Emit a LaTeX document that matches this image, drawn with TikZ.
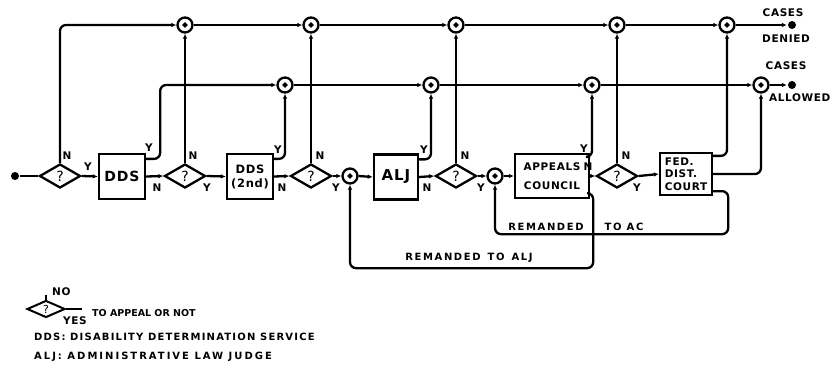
\documentclass[tikz,border=0pt]{standalone}
\usepackage{fontspec}
\setmainfont{DejaVu Sans}
\newfontfamily\fn{DejaVu Sans}[LetterSpace=6]
\newfontfamily\fm{DejaVu Sans}[LetterSpace=12]
\newfontfamily\fj{DejaVu Sans}[LetterSpace=20]
\newfontfamily\fw{DejaVu Sans}[LetterSpace=16]
\usetikzlibrary{shapes.geometric,arrows.meta}
\begin{document}
\begin{tikzpicture}[x=1pt,y=-1pt,line width=2.3pt,
  ar/.style={-{Latex[length=5pt,width=4.5pt]}},
  rc/.style={rounded corners=6pt},
  box/.style={draw,rectangle,inner sep=0pt,align=center,font=\fn\bfseries\fontsize{12}{14}\selectfont},
  dec/.style={draw,diamond,inner sep=0pt,minimum width=41pt,minimum height=24pt,font=\fontsize{14}{14}\selectfont},
  sumj/.style={draw,circle,minimum size=15pt,inner sep=0pt,
    path picture={\fill (path picture bounding box.center) +(-2.8pt,0) -- +(0,2.8pt) -- +(2.8pt,0) -- +(0,-2.8pt) -- cycle;}},
  lab/.style={font=\fn\bfseries\fontsize{10.5}{11}\selectfont,inner sep=0pt},
  wlab/.style={font=\fw\bfseries\fontsize{10}{10}\selectfont,inner sep=0pt},
  dotn/.style={circle,fill,inner sep=0pt,minimum size=8pt}
]
\useasboundingbox (0,0) rectangle (830,380);

% nodes main row
\node[dotn] (start) at (15,176) {};
\node[dec] (d1) at (60,176) {?};
\node[box,minimum width=46pt,minimum height=45pt,font=\fn\bfseries\fontsize{14}{14}\selectfont] (dds) at (122,176.5) {DDS};
\node[dec] (d2) at (185,176) {?};
\node[box,minimum width=46pt,minimum height=45pt,font=\fn\bfseries\fontsize{11.5}{14}\selectfont] (dds2) at (250,176.5) {DDS\\(2nd)};
\node[dec] (d3) at (311,176) {?};
\node[sumj] (s1) at (350,176) {};
\node[box,minimum width=44pt,minimum height=45pt,font=\fn\bfseries\fontsize{15}{15}\selectfont] (alj) at (396,177) {ALJ};
\node[dec] (d4) at (456,176) {?};
\node[sumj] (s2) at (495,176) {};
\node[box,minimum width=74pt,minimum height=44pt,font=\fn\bfseries\fontsize{10.5}{19}\selectfont] (ac) at (552,176) {APPEALS\\COUNCIL};
\node[dec] (d5) at (617,176) {?};
\node[box,minimum width=52pt,minimum height=42pt,align=left,font=\fn\bfseries\fontsize{10.5}{12.5}\selectfont] (fed) at (686,174) {FED.\\DIST.\\COURT};

% top row
\node[sumj] (t1) at (185,25) {};
\node[sumj] (t2) at (311,25) {};
\node[sumj] (t3) at (456,25) {};
\node[sumj] (t4) at (617,25) {};
\node[sumj] (t5) at (727,25) {};
\node[dotn] (endD) at (792,25) {};
% second row
\node[sumj] (a1) at (285,85) {};
\node[sumj] (a2) at (431,85) {};
\node[sumj] (a3) at (592,85) {};
\node[sumj] (a4) at (761,85) {};
\node[dotn] (endA) at (792,85) {};

% main row connectors
\draw (start) -- (d1.west);
\draw[ar] (d1.east) -- (dds.west);
\draw[ar] (dds.east) -- (d2.west);
\draw[ar] (d2.east) -- (dds2.west);
\draw[ar] (dds2.east) -- (d3.west);
\draw[ar] (d3.east) -- (s1.west);
\draw[ar] (s1.east) -- (alj.west);
\draw[ar] (alj.east) -- (d4.west);
\draw[ar] (d4.east) -- (s2.west);
\draw[ar] (s2.east) -- (ac.west);
\draw[ar] (ac.east) -- (d5.west);
\draw[ar] (d5.east) -- (fed.west);

% N branches up
\draw[ar,rc] (d1.north) |- (t1.west);
\draw[ar] (d2.north) -- (t1.south);
\draw[ar] (d3.north) -- (t2.south);
\draw[ar] (d4.north) -- (t3.south);
\draw[ar] (d5.north) -- (t4.south);
\draw[ar,rc] ([yshift=-4pt]fed.north east) -| (t5.south);

% Y branches up
\draw[ar,rc] ([yshift=-6pt]dds.north east) -- ++(14,0) |- (a1.west);
\draw[ar,rc] ([yshift=-6pt]dds2.north east) -| (a1.south);
\draw[ar,rc] ([yshift=-6pt]alj.north east) -| (a2.south);
\draw[ar,rc] ([yshift=-4pt]ac.north east) -| (a3.south);
\draw[ar,rc] (fed.east) -| (a4.south);

% top and second lines
\draw[ar] (t1.east) -- (t2.west);
\draw[ar] (t2.east) -- (t3.west);
\draw[ar] (t3.east) -- (t4.west);
\draw[ar] (t4.east) -- (t5.west);
\draw[ar] (t5.east) -- (endD);
\draw[ar] (a1.east) -- (a2.west);
\draw[ar] (a2.east) -- (a3.west);
\draw[ar] (a3.east) -- (a4.west);
\draw[ar] (a4.east) -- (endA);

% remand loops
\draw[ar,rc] ([yshift=5pt]fed.south east) -- ++(15,0) -- ++(0,43) -| (s2.south);
\draw[ar,rc] ([yshift=6pt]ac.south east) -- ++(3,0) -- ++(0,75) -| (s1.south);

% labels
\node[lab] at (67,156) {N};
\node[lab] at (88,167) {Y};
\node[lab] at (149,148) {Y};
\node[lab] at (157,188) {N};
\node[lab] at (193,156) {N};
\node[lab] at (207,188) {Y};
\node[lab] at (278,150) {Y};
\node[lab] at (282,188) {N};
\node[lab] at (320,156) {N};
\node[lab] at (336,188) {Y};
\node[lab] at (424,150) {Y};
\node[lab] at (427,188) {N};
\node[lab] at (465,156) {N};
\node[lab] at (481,188) {Y};
\node[lab] at (584,149) {Y};
\node[lab] at (588,167) {N};
\node[lab] at (626,156) {N};
\node[lab] at (637,188) {Y};

\node[lab] at (783,13) {CASES};
\node[lab] at (786,39) {DENIED};
\node[lab] at (786,66) {CASES};
\node[lab,anchor=west] at (768,98) {ALLOWED};

\node[wlab] at (546,227) {REMANDED};
\node[wlab] at (624,227) {TO AC};
\node[wlab] at (469,258) {REMANDED\hspace{7pt}TO\hspace{7pt}ALJ};

% legend
\node[dec,minimum width=38pt,minimum height=17pt,line width=2pt,font=\fontsize{11}{11}\selectfont] (ld) at (46,309) {?};
\coordinate (lno) at (46,295);
\coordinate (lyes) at (82,309);
\draw[line width=2pt] (ld.north) -- (lno);
\draw[line width=2pt] (ld.east) -- (lyes);
\node[lab,anchor=west] at (51,292) {NO};
\node[lab,anchor=west] at (62,321) {YES};
\node[font=\bfseries\fontsize{9.5}{10}\selectfont,inner sep=0pt,anchor=west] at (91,313) {TO APPEAL OR NOT};
\node[font=\fm\bfseries\fontsize{10}{10}\selectfont,inner sep=0pt,anchor=west] at (33,337) {DDS: DISABILITY DETERMINATION SERVICE};
\node[font=\fj\bfseries\fontsize{10}{10}\selectfont,inner sep=0pt,anchor=west] at (33,357) {ALJ: ADMINISTRATIVE LAW JUDGE};
\end{tikzpicture}
\end{document}
